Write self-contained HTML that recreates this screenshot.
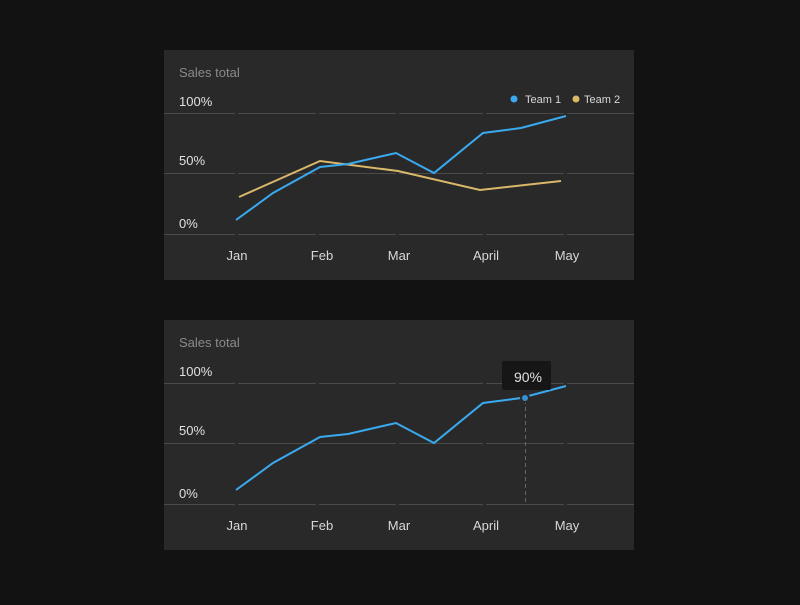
<!DOCTYPE html>
<html><head><style>
body{margin:0;background:#121212;width:800px;height:600px;overflow:hidden;font-family:"Liberation Sans",sans-serif}
</style></head><body>
<svg width="800" height="600" xmlns="http://www.w3.org/2000/svg" font-family="Liberation Sans, sans-serif">
<rect width="800" height="600" fill="#121212"/>
<g id="c1">
<rect x="164" y="50" width="470" height="230" fill="#292929"/>
<text x="179" y="77" fill="#8a8a8a" font-size="13">Sales total</text>
<text x="179" y="106" fill="#e0e0e0" font-size="13">100%</text>
<text x="179" y="165" fill="#e0e0e0" font-size="13">50%</text>
<text x="179" y="228" fill="#e0e0e0" font-size="13">0%</text>
<g stroke="#4a4a4a" stroke-width="1" stroke-dasharray="71,3,78,3,77,3,84,3,78,3,70">
<line x1="164" y1="113.5" x2="634" y2="113.5"/>
<line x1="164" y1="173.5" x2="634" y2="173.5"/>
<line x1="164" y1="234.5" x2="634" y2="234.5"/>
</g>
<g fill="#d8d8d8" font-size="13" text-anchor="middle">
<text x="237" y="260">Jan</text><text x="322" y="260">Feb</text><text x="399" y="260">Mar</text><text x="486" y="260">April</text><text x="567" y="260">May</text>
</g>
<circle cx="514" cy="99" r="3.5" fill="#3aaaf0"/><text x="525" y="103" fill="#d8d8d8" font-size="11">Team 1</text>
<circle cx="576" cy="99" r="3.5" fill="#d9b86a"/><text x="584" y="103" fill="#d8d8d8" font-size="11">Team 2</text>
<polyline fill="none" stroke="#d9b86a" stroke-width="2" points="239,197 320,161 398,171 480,190 561,181"/>
<polyline fill="none" stroke="#3aaaf0" stroke-width="2" points="236,220 273,193 320,167 348,164 396,153 434,173 483,133 521,128 566,116"/>
</g>
<g transform="translate(0,270)">
<rect x="164" y="50" width="470" height="230" fill="#292929"/>
<text x="179" y="77" fill="#8a8a8a" font-size="13">Sales total</text>
<text x="179" y="106" fill="#e0e0e0" font-size="13">100%</text>
<text x="179" y="165" fill="#e0e0e0" font-size="13">50%</text>
<text x="179" y="228" fill="#e0e0e0" font-size="13">0%</text>
<g stroke="#4a4a4a" stroke-width="1" stroke-dasharray="71,3,78,3,77,3,84,3,78,3,70">
<line x1="164" y1="113.5" x2="634" y2="113.5"/>
<line x1="164" y1="173.5" x2="634" y2="173.5"/>
<line x1="164" y1="234.5" x2="634" y2="234.5"/>
</g>
<g fill="#d8d8d8" font-size="13" text-anchor="middle">
<text x="237" y="260">Jan</text><text x="322" y="260">Feb</text><text x="399" y="260">Mar</text><text x="486" y="260">April</text><text x="567" y="260">May</text>
</g>
<line x1="525.5" y1="130" x2="525.5" y2="232" stroke="#666" stroke-dasharray="4,3"/>
<polyline fill="none" stroke="#3aaaf0" stroke-width="2" points="236,220 273,193 320,167 348,164 396,153 434,173 483,133 521,128 566,116"/>
<circle cx="525" cy="128" r="4" fill="#3a8fd0" stroke="#292929" stroke-width="2"/>
<rect x="502" y="91" width="49" height="29" rx="2" fill="#161616"/>
<text x="528" y="112" fill="#e0e0e0" font-size="14" text-anchor="middle">90%</text>
</g>
</svg>
</body></html>
